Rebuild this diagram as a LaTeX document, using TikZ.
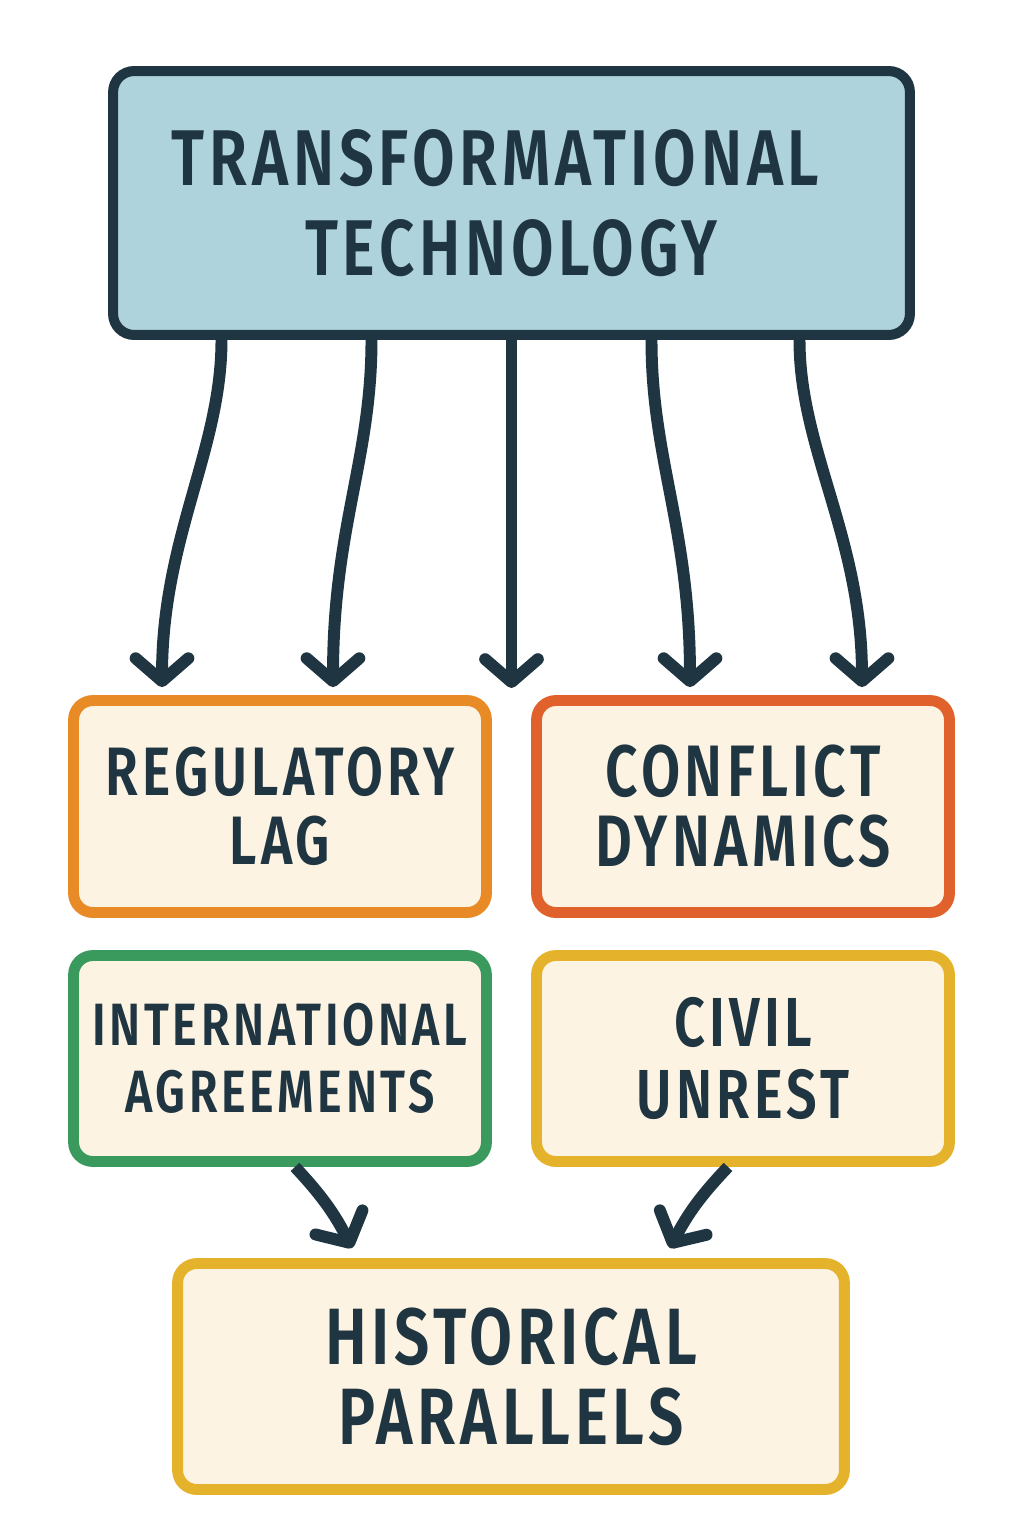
\documentclass[tikz,border=0pt]{standalone}
\usepackage{fontspec}
\setmainfont{Fira Sans}
\newfontfamily\capsface{Fira Sans SemiBold}[FakeStretch=0.78, LetterSpace=6]
\usetikzlibrary{arrows.meta, positioning, calc}
\definecolor{mInk}{HTML}{1F3541}
\definecolor{mSky}{HTML}{AFD3DC}
\definecolor{mCream}{HTML}{FDF3E2}
\definecolor{mOrange}{HTML}{E88A26}
\definecolor{mRust}{HTML}{E0612B}
\definecolor{mGreen}{HTML}{3A9A5E}
\definecolor{mGold}{HTML}{E5B22B}
\tikzset{
  tbox/.style={draw=mInk, line width=5.7pt, rounded corners=12pt, fill=mSky,
               align=center, text=mInk, inner sep=0pt},
  cbox/.style={line width=6.2pt, rounded corners=11pt, fill=mCream,
               align=center, text=mInk, inner sep=0pt,
               minimum width=8.26cm},
  flow/.style={mInk, line width=6.8pt,
               -{Straight Barb[length=13pt, width=30pt, round]}},
}
\newcommand{\capsfont}[2]{\fontsize{#1}{#2}\capsface\selectfont}

\begin{document}
\begin{tikzpicture}[x=0.02cm, y=-0.02cm]
    \useasboundingbox[fill=white] (0,0) rectangle (1024,1536);
    \node[tbox, minimum width=15.94cm, minimum height=5.28cm,
          font=\capsfont{45}{51}] (top) at (511.5,203)
      {TRANSFORMATIONAL\hspace*{18pt}\\TECHNOLOGY};
    \node[cbox, draw=mOrange, minimum height=4.24cm,
          font=\capsfont{39}{39}] (reg) at (280,806.5)
      {REGULATORY\\LAG};
    \node[cbox, draw=mRust, minimum height=4.24cm,
          font=\capsfont{41.5}{40}] (conf) at (743,806.5)
      {CONFLICT\\DYNAMICS};
    \node[cbox, draw=mGreen, minimum height=4.12cm,
          font=\capsfont{34}{38}] (intl) at (280,1058.5)
      {INTERNATIONAL\\AGREEMENTS};
    \node[cbox, draw=mGold, minimum height=4.12cm,
          font=\capsfont{39.5}{41.5}] (civil) at (743,1058.5)
      {CIVIL\\UNREST};
    \node[cbox, draw=mGold, minimum width=13.34cm, minimum height=4.52cm,
          font=\capsfont{45.5}{45.5}] (hist) at (511,1376.5)
      {HISTORICAL\\PARALLELS};
    % arrow ends
    \coordinate (t1) at ($(top.south)+(-290,0)$);
    \coordinate (t2) at ($(top.south)+(-140,0)$);
    \coordinate (t3) at ($(top.south)+(0,0)$);
    \coordinate (t4) at ($(top.south)+(140,0)$);
    \coordinate (t5) at ($(top.south)+(288,0)$);
    \coordinate (h1) at ($(reg.north)+(-118,-8)$);
    \coordinate (h2) at ($(reg.north)+(53,-8)$);
    \coordinate (h3) at ($(top.south)+(0,348)$);
    \coordinate (h4) at ($(conf.north)+(-53,-8)$);
    \coordinate (h5) at ($(conf.north)+(119,-8)$);
    \draw[flow] (t1) .. controls ($(t1)+(0,110)$) and ($(h1)+(0,-150)$) .. (h1);
    \draw[flow] (t2) .. controls ($(t2)+(0,120)$) and ($(h2)+(0,-160)$) .. (h2);
    \draw[flow] (t3) -- (h3);
    \draw[flow] (t4) .. controls ($(t4)+(0,120)$) and ($(h4)+(0,-160)$) .. (h4);
    \draw[flow] (t5) .. controls ($(t5)+(0,110)$) and ($(h5)+(0,-150)$) .. (h5);
    \coordinate (b1) at ($(intl.south)+(15,0)$);
    \coordinate (b2) at ($(civil.south)+(-15,0)$);
    \coordinate (p1) at ($(hist.north west)+(180,-10)$);
    \coordinate (p2) at ($(hist.north east)+(-180,-10)$);
    \draw[flow] (b1) to[bend left=8] (p1);
    \draw[flow] (b2) to[bend right=8] (p2);
  \end{tikzpicture}
\end{document}
